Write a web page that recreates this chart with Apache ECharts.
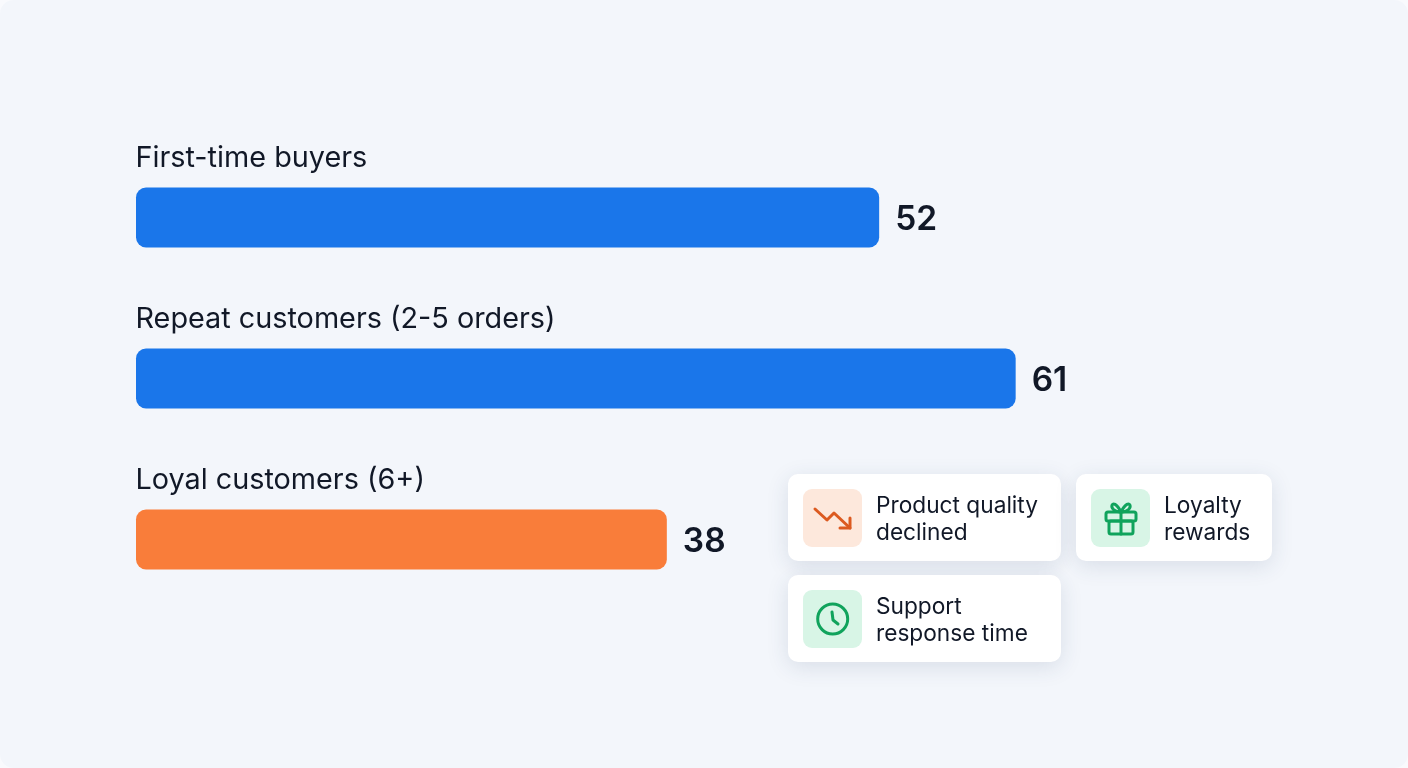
<!DOCTYPE html>
<html>
<head>
<meta charset="utf-8">
<style>
  html, body { margin: 0; padding: 0; background: #f9fafd; }
  #chart { width: 1408px; height: 768px; background: #f3f6fb; border-radius: 14px; overflow: hidden; }
</style>
<script src="https://cdn.jsdelivr.net/npm/echarts@6/dist/echarts.min.js"></script>
</head>
<body>
<div id="chart"></div>
<script>
// Customer segments and their scores
const categories = ['First-time buyers', 'Repeat customers (2-5 orders)', 'Loyal customers (6+)'];
const values = [52, 61, 38];
const barColors = ['#1a76ea', '#1a76ea', '#f97d3a'];

// Callout cards: text lines and icon kind
const cardLines = [
  ['Product quality', 'declined'],
  ['Loyalty', 'rewards'],
  ['Support', 'response time']
];
const cardIcons = ['trend', 'gift', 'clock'];

const FONT = 'Inter, "Noto Sans", sans-serif';
const INK = '#111827';
const ORANGE = '#dc5a20';
const GREEN = '#10a35c';
const ORANGE_BG = '#fde8dc';
const GREEN_BG = '#d8f5e6';

// Stroke-only icon drawn inside a 58px tile
function iconElements(kind) {
  const stroke = { lineWidth: 3, lineCap: 'round', lineJoin: 'round', fill: null };
  if (kind === 'trend') {
    const s = Object.assign({}, stroke, { stroke: ORANGE });
    return [
      { type: 'polyline', shape: { points: [[12, 20], [24, 31], [31, 24], [47, 39]] }, style: s },
      { type: 'polyline', shape: { points: [[37, 39], [47, 39], [47, 29]] }, style: s }
    ];
  }
  if (kind === 'gift') {
    const s = Object.assign({}, stroke, { stroke: GREEN });
    return [
      { type: 'rect', shape: { x: 15, y: 23, width: 30, height: 9, r: 2 }, style: s },
      { type: 'rect', shape: { x: 18, y: 32, width: 24, height: 13, r: 2 }, style: s },
      { type: 'line', shape: { x1: 30, y1: 23, x2: 30, y2: 45 }, style: s },
      { type: 'bezierCurve', shape: { x1: 30, y1: 23, cpx1: 15, cpy1: 23, cpx2: 21, cpy2: 5, x2: 30, y2: 23 }, style: s },
      { type: 'bezierCurve', shape: { x1: 30, y1: 23, cpx1: 45, cpy1: 23, cpx2: 39, cpy2: 5, x2: 30, y2: 23 }, style: s }
    ];
  }
  const s = Object.assign({}, stroke, { stroke: GREEN });
  return [
    { type: 'circle', shape: { cx: 29.7, cy: 29, r: 15 }, style: s },
    { type: 'polyline', shape: { points: [[29, 22], [30, 30], [35, 34]] }, style: s }
  ];
}

// One white card with an icon tile and two lines of text
function card(x, y, w, h, index) {
  const lines = cardLines[index];
  const kind = cardIcons[index];
  return {
    type: 'group',
    x: x,
    y: y,
    children: [
      {
        type: 'rect',
        shape: { x: 0, y: 0, width: w, height: h, r: 10 },
        style: { fill: '#ffffff', shadowBlur: 22, shadowOffsetY: 5, shadowColor: 'rgba(40,60,100,0.13)' }
      },
      {
        type: 'rect',
        shape: { x: 15, y: 15, width: 59, height: 58, r: 9 },
        style: { fill: kind === 'trend' ? ORANGE_BG : GREEN_BG }
      },
      { type: 'group', x: 15, y: 15, children: iconElements(kind) },
      {
        type: 'text', x: 88, y: 32,
        style: { text: lines[0], font: '400 22.7px ' + FONT, fill: INK, textVerticalAlign: 'middle' }
      },
      {
        type: 'text', x: 88, y: 59,
        style: { text: lines[1], font: '400 22.7px ' + FONT, fill: INK, textVerticalAlign: 'middle' }
      }
    ]
  };
}

const chart = echarts.init(document.getElementById('chart'), null, { renderer: 'canvas' });
chart.setOption({
  animation: false,
  backgroundColor: 'transparent',
  grid: { left: 136, top: 137, width: 1001, height: 483 },
  xAxis: { type: 'value', min: 3, max: 69, show: false },
  yAxis: {
    type: 'category',
    data: categories,
    inverse: true,
    axisLine: { show: false },
    axisTick: { show: false },
    splitLine: { show: false },
    axisLabel: { show: false }
  },
  series: [
    {
      type: 'bar',
      barWidth: 60,
      data: values.map((v, i) => ({ value: v, itemStyle: { color: barColors[i] } })),
      itemStyle: { borderRadius: 10 },
      label: {
        show: true,
        position: 'right',
        distance: 16,
        offset: [0, 2],
        fontFamily: FONT,
        fontSize: 33.5,
        fontWeight: 600,
        color: INK
      },
      z: 2
    },
    {
      // Segment names sit above each bar, anchored at the axis start
      type: 'scatter',
      symbolSize: 1,
      itemStyle: { color: 'transparent', opacity: 1 },
      silent: true,
      data: categories.map(c => [3, c]),
      label: {
        show: true,
        position: 'right',
        distance: 0,
        offset: [-1, -59],
        formatter: p => p.value[1],
        fontFamily: FONT,
        fontSize: 28.8,
        color: INK
      },
      z: 3
    }
  ],
  graphic: { elements: [
    card(788, 474, 273, 87, 0),
    card(1076, 474, 196, 87, 1),
    card(788, 575, 273, 87, 2)
  ] }
});
</script>
</body>
</html>
